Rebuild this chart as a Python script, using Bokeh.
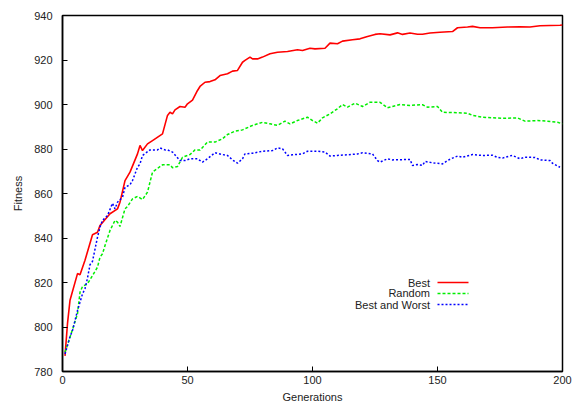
from bokeh.plotting import figure
from bokeh.models import Label, Arrow, FixedTicker, Range1d
from bokeh.embed import file_html
from bokeh.resources import INLINE

# ---- data ----
best_gen = [1, 2, 3, 6, 7, 9, 12, 14, 15, 19, 22, 23, 25, 27, 30, 31, 32, 34, 36, 40,
            42, 43, 44, 45, 47, 49, 50, 52, 54, 55, 57, 59, 61, 63, 66, 68, 70, 72, 73, 75,
            76, 78, 80, 83, 86, 90, 94, 96, 99, 101, 105, 107, 110, 112, 116, 119, 122, 125,
            127, 131, 134, 136, 139, 142, 144, 147, 151, 156, 158, 162, 164, 167, 172, 178,
            183, 187, 191, 199, 200]
best_fit = [787.0, 801.6, 812.0, 824.0, 823.5, 830.0, 841.5, 842.6, 845.6, 850.9, 853.1,
            856.1, 865.8, 869.6, 877.8, 881.6, 879.3, 882.3, 883.8, 886.8, 895.1, 896.5,
            895.8, 897.6, 899.1, 898.8, 900.3, 902.0, 906.3, 908.1, 910.0, 910.3, 911.1,
            913.0, 913.8, 915.0, 915.3, 919.0, 919.8, 921.3, 920.5, 920.5, 921.3, 922.8,
            923.5, 923.8, 924.6, 924.3, 925.3, 925.0, 925.3, 927.6, 927.3, 928.5, 929.1,
            929.5, 930.6, 931.5, 931.8, 931.3, 932.2, 931.5, 932.1, 931.6, 931.6, 932.1,
            932.5, 932.8, 934.5, 934.8, 935.1, 934.5, 934.5, 934.8, 934.9, 934.8, 935.4,
            935.6, 935.7]

random_gen = [1, 3, 6, 7, 8, 10, 12, 14, 15, 16, 17, 19, 21, 22, 23, 25, 26, 28, 30, 32,
              34, 36, 40, 43, 44, 46, 48, 51, 53, 55, 58, 61, 64, 66, 69, 72, 76, 80, 83,
              86, 89, 91, 94, 98, 100, 102, 104, 107, 110, 112, 114, 117, 120, 123, 127,
              130, 132, 135, 139, 144, 146, 150, 152, 156, 162, 164, 168, 176, 182, 185,
              190, 194, 198, 200]
random_fit = [788.7, 795.4, 805.9, 815.6, 818.2, 819.4, 823.1, 826.9, 831.4, 832.9, 836.6,
              843.4, 847.9, 847.1, 845.2, 853.1, 854.2, 857.6, 858.7, 857.3, 860.6, 869.6,
              872.9, 872.9, 871.6, 872.1, 876.3, 877.5, 879.6, 879.5, 883.1, 883.1, 884.6,
              886.5, 888.0, 888.6, 890.6, 892.0, 891.3, 890.6, 892.5, 891.3, 892.8, 894.3,
              892.8, 891.6, 894.0, 895.8, 898.1, 900.0, 898.8, 900.6, 899.1, 901.0, 901.0,
              898.5, 899.1, 900.0, 899.6, 899.9, 898.8, 899.1, 896.5, 896.4, 896.1, 895.1,
              894.3, 893.8, 894.0, 892.5, 892.8, 892.5, 892.0, 891.3]

bw_gen = [1, 2, 3, 4, 6, 8, 9, 10, 11, 12, 14, 15, 16, 18, 20, 21, 22, 24, 25, 27, 28,
          30, 31, 32, 35, 38, 39, 41, 42, 44, 47, 49, 51, 54, 56, 58, 61, 64, 66, 68, 70,
          72, 73, 76, 80, 84, 86, 88, 90, 92, 96, 98, 102, 105, 107, 110, 114, 118, 120,
          124, 126, 127, 130, 132, 139, 140, 142, 144, 145, 148, 152, 154, 156, 158, 160,
          164, 168, 172, 174, 176, 179, 180, 183, 185, 189, 191, 195, 196, 199]
bw_fit = [787.9, 791.7, 795.7, 798.4, 807.4, 814.9, 817.2, 822.0, 828.0, 829.5, 840.4,
          844.9, 847.9, 850.1, 855.6, 853.1, 856.1, 858.3, 862.8, 863.9, 865.8, 871.8,
          873.3, 877.1, 879.6, 879.6, 880.5, 879.6, 879.6, 878.6, 874.8, 874.8, 875.6,
          875.6, 874.1, 875.6, 878.3, 877.5, 877.1, 875.1, 873.6, 875.6, 877.8, 878.1,
          879.0, 879.3, 880.5, 880.1, 877.1, 877.4, 877.8, 879.0, 879.0, 878.6, 876.8,
          877.1, 877.4, 877.8, 878.3, 877.8, 874.8, 874.1, 875.6, 875.1, 875.3, 872.6,
          873.0, 872.6, 874.4, 873.8, 873.3, 874.8, 875.9, 876.8, 876.3, 877.5, 877.1,
          877.2, 876.2, 875.9, 876.9, 877.1, 875.6, 876.3, 876.2, 875.1, 874.8, 873.6,
          871.8]

x_ticks = [0, 50, 100, 150, 200]
y_ticks = [780, 800, 820, 840, 860, 880, 900, 920, 940]
series_names = ["Best", "Random", "Best and Worst"]

FONT = "Liberation Sans"
TXT = "#222222"

p = figure(width=572, height=405, output_backend="svg", toolbar_location=None,
           x_range=Range1d(0, 200), y_range=Range1d(780, 940),
           min_border_left=62, min_border_right=10, min_border_top=15,
           min_border_bottom=34)
p.background_fill_color = "white"
p.border_fill_color = "white"
p.xgrid.visible = False
p.ygrid.visible = False
p.outline_line_color = "black"
p.outline_line_width = 1.5
p.outline_line_alpha = 1.0

p.xaxis.ticker = FixedTicker(ticks=x_ticks)
p.yaxis.ticker = FixedTicker(ticks=y_ticks)
p.xaxis.axis_label = "Generations"
p.yaxis.axis_label = "Fitness"
for ax in (p.xaxis, p.yaxis):
    ax.axis_line_color = "black"
    ax.axis_line_width = 1.5
    ax.major_tick_line_color = "black"
    ax.major_tick_line_width = 1
    ax.major_tick_in = 5
    ax.major_tick_out = 0
    ax.minor_tick_line_color = None
    ax.major_label_text_font = FONT
    ax.major_label_text_font_size = "11px"
    ax.major_label_text_color = TXT
    ax.axis_label_text_font = FONT
    ax.axis_label_text_font_size = "11px"
    ax.axis_label_text_font_style = "normal"
    ax.axis_label_text_color = TXT
p.yaxis.major_label_standoff = 10
p.yaxis.axis_label_standoff = 7
p.xaxis.major_label_standoff = 4
p.xaxis.axis_label_standoff = 4

styles = [
    dict(color="#ff0000", width=1.6, dash="solid"),
    dict(color="#00ee00", width=1.5, dash="3 2"),
    dict(color="#0000ff", width=1.5, dash="2 2"),
]
data = [(best_gen, best_fit), (random_gen, random_fit), (bw_gen, bw_fit)]
for (gx, fy), st in zip(data, styles):
    p.line(gx, fy, line_color=st["color"], line_width=st["width"], line_dash=st["dash"])

# gnuplot-style key: right-aligned text, sample line to its right
key_text_x = 147.0
key_line_x0, key_line_x1 = 150.0, 162.4
key_ys = [820.0, 815.1, 810.1]
for name, st, ky in zip(series_names, styles, key_ys):
    p.add_layout(Label(x=key_text_x, y=ky, text=name, text_align="right",
                       text_baseline="middle", text_font=FONT,
                       text_font_size="11px", text_color=TXT))
    p.add_layout(Arrow(end=None, x_start=key_line_x0, y_start=ky, x_end=key_line_x1,
                       y_end=ky, line_color=st["color"], line_width=st["width"],
                       line_dash=st["dash"]))

open("out.html", "w").write(file_html(p, INLINE))
